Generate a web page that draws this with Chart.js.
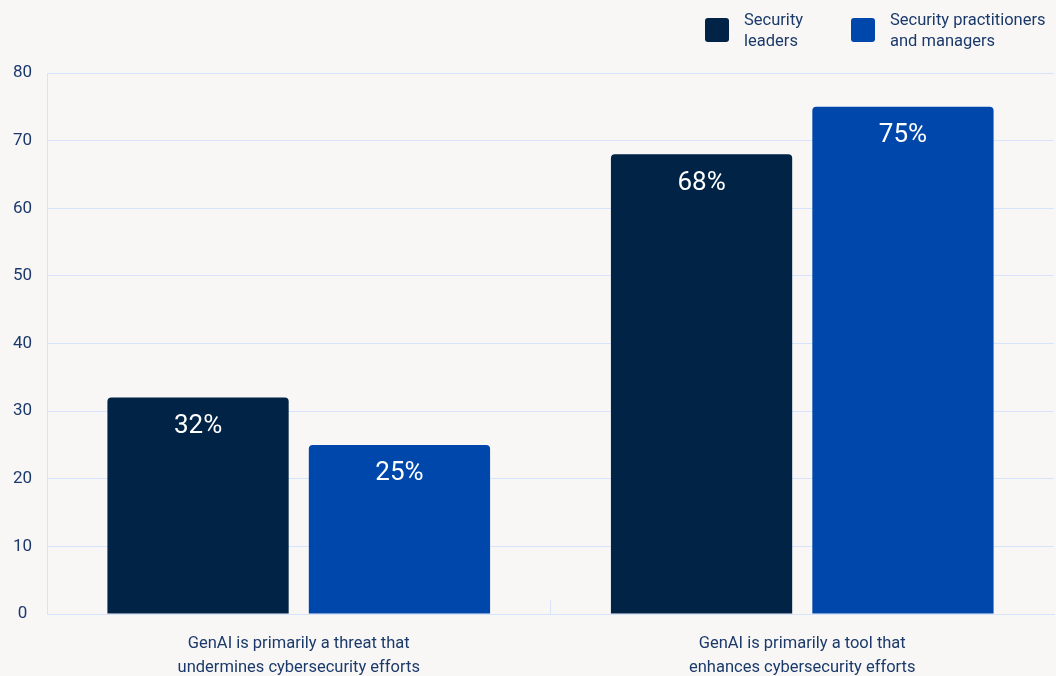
<!DOCTYPE html>
<html>
<head>
<meta charset="utf-8">
<script src="https://cdn.jsdelivr.net/npm/chart.js@4.4.1/dist/chart.umd.min.js"></script>
<style>
  html, body { margin:0; padding:0; background:#f8f7f6; }
  #wrap { position:relative; width:1056px; height:676px; font-family: Roboto, "Noto Sans", sans-serif; }
  #chart { position:absolute; left:0; top:0; }
  .li { position:absolute; top:9px; display:flex; align-items:center; color:#1b3a6b; font-size:16.5px; line-height:21px; }
  .box { width:24px; height:24px; border-radius:3px; margin-right:15px; flex:none; }
</style>
</head>
<body>
<div id="wrap">
  <canvas id="chart" width="1056" height="676"></canvas>
</div>
<script>
const categories = [
  ["GenAI is primarily a threat that", "undermines cybersecurity efforts"],
  ["GenAI is primarily a tool that", "enhances cybersecurity efforts"]
];
const seriesNames = [["Security", "leaders"], ["Security practitioners", "and managers"]];
const leaders = [32, 68];
const practitioners = [25, 75];
const yTicks = [0, 10, 20, 30, 40, 50, 60, 70, 80];
const colors = ["#012346", "#0047ab"];
const textColor = "#1b3a6b";
const gridColor = "#d5e3fb";

const valueLabels = {
  id: 'valueLabels',
  afterDatasetsDraw(chart) {
    const ctx = chart.ctx;
    ctx.save();
    ctx.fillStyle = '#ffffff';
    ctx.font = '26px Roboto';
    ctx.textAlign = 'center';
    ctx.textBaseline = 'middle';
    chart.data.datasets.forEach((ds, i) => {
      chart.getDatasetMeta(i).data.forEach((bar, j) => {
        ctx.fillText(ds.data[j] + '%', bar.x, bar.y + 29);
      });
    });
    ctx.restore();
  }
};

const chart = new Chart(document.getElementById('chart'), {
  type: 'bar',
  data: {
    labels: categories,
    datasets: [
      { label: seriesNames[0].join(' '), data: leaders, backgroundColor: colors[0], borderRadius: {topLeft:4, topRight:4}, borderSkipped: 'bottom' },
      { label: seriesNames[1].join(' '), data: practitioners, backgroundColor: colors[1], borderRadius: {topLeft:4, topRight:4}, borderSkipped: 'bottom' }
    ]
  },
  options: {
    responsive: false,
    animation: false,
    layout: { padding: { top: 73, right: 2, left: 0, bottom: 0 } },
    plugins: { legend: { display: false }, tooltip: { enabled: false } },
    datasets: { bar: { categoryPercentage: 0.8, barPercentage: 0.9 } },
    scales: {
      x: {
        afterFit: (s) => { s.height = 62; },
        grid: {
          offset: true,
          drawOnChartArea: false,
          drawTicks: true,
          tickLength: -14,
          color: (c) => (c.index === 1 ? gridColor : 'rgba(0,0,0,0)')
        },
        border: { display: true, color: gridColor },
        ticks: { color: textColor, font: { size: 16.5, family: 'Roboto', lineHeight: 1.45 }, padding: 32, maxRotation: 0, autoSkip: false }
      },
      y: {
        min: 0, max: 80,
        afterBuildTicks: (s) => { s.ticks = yTicks.map(v => ({ value: v })); },
        afterFit: (s) => { s.width = 47; },
        grid: { color: gridColor, drawTicks: false },
        border: { display: true, color: gridColor },
        ticks: { color: textColor, font: { size: 17, family: 'Roboto' }, padding: 15, crossAlign: 'center' }
      }
    }
  },
  plugins: [valueLabels]
});

const wrap = document.getElementById('wrap');
const legendX = [705, 851];
chart.data.datasets.forEach((ds, i) => {
  const li = document.createElement('div');
  li.className = 'li';
  li.style.left = legendX[i] + 'px';
  const box = document.createElement('div');
  box.className = 'box';
  box.style.background = ds.backgroundColor;
  const t = document.createElement('div');
  t.innerHTML = seriesNames[i].join('<br>');
  li.appendChild(box); li.appendChild(t);
  wrap.appendChild(li);
});
</script>
</body>
</html>
